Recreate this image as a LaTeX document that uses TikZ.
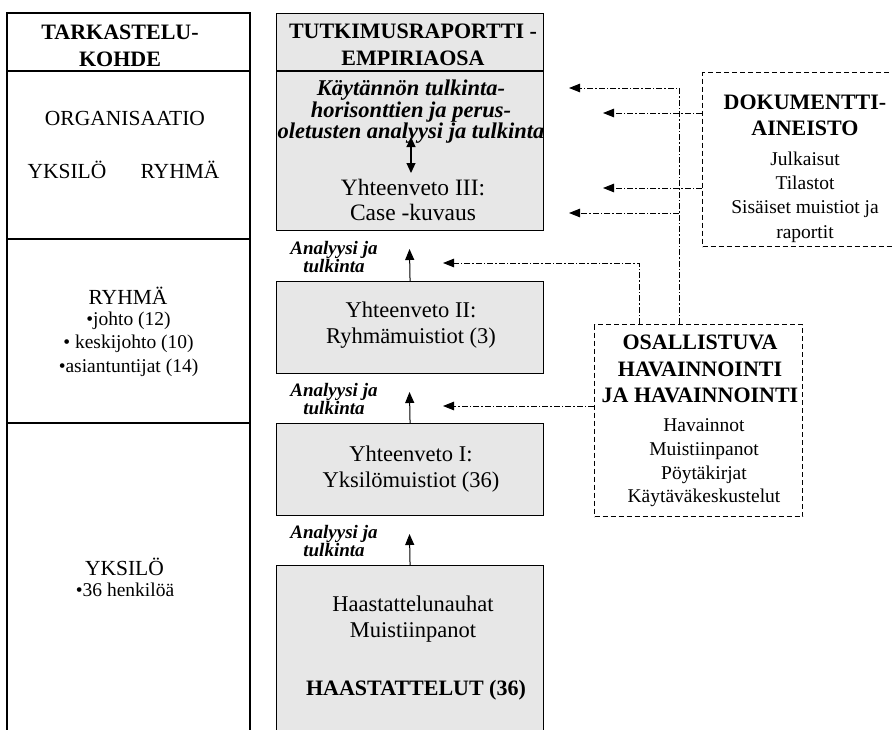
\documentclass[tikz,border=0pt]{standalone}
\usepackage{fontspec}
\setmainfont{Liberation Serif}
\usetikzlibrary{arrows.meta}
\definecolor{boxgray}{RGB}{231,231,231}

\newcommand{\fs}[2]{\fontsize{#1}{#2}\selectfont}

\begin{document}
\begin{tikzpicture}[x=1pt,y=-1pt,
  frame/.style={line width=1.3pt},
  graybox/.style={draw, line width=1.1pt, fill=boxgray, anchor=north west,
                  inner sep=0pt, minimum width=267pt},
  srcbox/.style={draw, line width=1.4pt, dash pattern=on 5pt off 3pt,
                 anchor=north west, inner sep=0pt},
  feed/.style={line width=0.9pt, dash pattern=on 6pt off 2pt on 1.5pt off 2pt,
               -{Triangle[length=11pt,width=8.5pt]}},
  up/.style={line width=1pt, -{Triangle[length=11pt,width=9pt]}},
  both/.style={line width=1.1pt, {Triangle[length=10pt,width=9pt]}-{Triangle[length=10pt,width=9pt]}},
  txt/.style={align=center, inner sep=0pt},
  big/.style={txt, font=\fs{21.5}{25}},
  small/.style={txt, font=\fs{19.5}{23.5}},
  head/.style={txt, font=\bfseries\fs{22}{27}},
  mid/.style={txt, font=\fs{22.5}{26}},
  note/.style={txt, font=\bfseries\itshape\fs{19}{18}}
]
\useasboundingbox (0,0) rectangle (892,729);
\clip (0,0) rectangle (892,729);

% ---- left column: level of observation ----
\draw[frame] (7,740) -- (7,13) -- (250,13) -- (250,740);
\draw[frame] (7,71) -- (250,71);
\draw[frame] (7,239) -- (250,239);
\draw[frame] (7,423) -- (250,423);

\node[head] (lhead) at (120,46) {TARKASTELU-\\KOHDE};
\node[big] (lorg) at (125,118) {ORGANISAATIO};
\node[big] (lyks1) at (67,170) {YKSILÖ};
\node[big] (lryh1) at (180,170) {RYHMÄ};
\node[big] (lryh) at (128,296) {RYHMÄ};
\node[small] (lryhl) at (128.5,344) {•johto (12)\\• keskijohto (10)\\•asiantuntijat (14)};
\node[big] (lyks) at (124.5,567) {YKSILÖ};
\node[small] (lyksl) at (125,590) {•36 henkilöä};

% ---- middle column: report stages ----
\node[graybox, minimum height=217pt] (b3) at (276,13) {};
\draw[line width=1.1pt] (276,71) -- (543,71);
\node[graybox, minimum height=92pt] (b2) at (276,281) {};
\node[graybox, minimum height=92pt] (b1) at (276,423) {};
\node[graybox, minimum height=185pt] (b0) at (276,565) {};

\node[head] (thead) at (413,45) {TUTKIMUSRAPORTTI -\\EMPIRIAOSA};
\node[txt, font=\bfseries\itshape\fs{22.5}{21.5}] (tanal) at (411,112)
  {Käytännön tulkinta-\\horisonttien ja perus-\\oletusten analyysi ja tulkinta};
\coordinate (da1) at (411,137);
\coordinate (da2) at (411,173);
\draw[both] (da1) -- (da2);
\node[mid, font=\fs{23.5}{25}] (t3) at (413,200) {Yhteenveto III:\\Case -kuvaus};
\node[mid] (t2) at (411,325) {Yhteenveto II:\\Ryhmämuistiot (3)};
\node[mid] (t1) at (411,469) {Yhteenveto I:\\Yksilömuistiot (36)};
\node[mid] (t0) at (413,619) {Haastattelunauhat\\Muistiinpanot};
\node[head] (t0b) at (416,690) {HAASTATTELUT (36)};

% analysis steps between the boxes
\coordinate (u3) at (409.5,249);
\coordinate (u2) at (409.5,392);
\coordinate (u1) at (409.5,534);
\draw[up] (b2.north) -- (u3);
\draw[up] (b1.north) -- (u2);
\draw[up] (b0.north) -- (u1);
\node[note] (n3) at (334,257) {Analyysi ja\\tulkinta};
\node[note] (n2) at (334,399) {Analyysi ja\\tulkinta};
\node[note] (n1) at (334,541) {Analyysi ja\\tulkinta};

% ---- right: additional sources ----
\node[srcbox, minimum width=210pt, minimum height=174pt] (doku) at (702,72) {};
\node[head, font=\bfseries\fs{22}{26}] (dhead) at (805,115) {DOKUMENTTI-\\AINEISTO};
\node[small, font=\fs{19.5}{24.3}] (dlist) at (805,197)
  {Julkaisut\\Tilastot\\Sisäiset muistiot ja\\raportit};

\node[srcbox, minimum width=208pt, minimum height=192pt] (osal) at (594,324) {};
\node[head, font=\bfseries\fs{22}{26.5}] (ohead) at (700,369)
  {OSALLISTUVA\\HAVAINNOINTI\\JA HAVAINNOINTI};
\node[small, font=\fs{19.5}{23.7}] (olist) at (704,463)
  {Havainnot\\Muistiinpanot\\Pöytäkirjat\\Käytäväkeskustelut};

% feeds from the documents
\coordinate (e1) at (603,113);
\coordinate (e2) at (603,188);
\draw[feed] (doku.west |- e1) -- (e1);
\draw[feed] (doku.west |- e2) -- (e2);

% feeds from the observation
\coordinate (j1) at (679,88);
\coordinate (j2) at (679,213);
\coordinate (e3) at (569,88);
\coordinate (e4) at (569,213);
\draw[feed] (osal.north -| j1) -- (j1) -- (e3);
\draw[feed] (j2) -- (e4);
\coordinate (k1) at (639,263);
\coordinate (e5) at (443,263);
\draw[feed] (osal.north -| k1) -- (k1) -- (e5);
\coordinate (e6) at (443,406);
\draw[feed] (osal.west |- e6) -- (e6);
\end{tikzpicture}
\end{document}
